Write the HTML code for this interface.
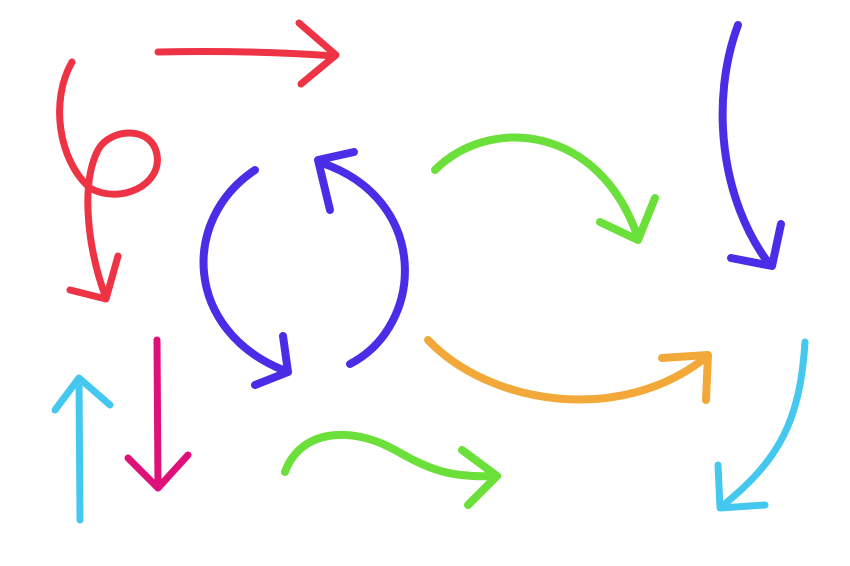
<!DOCTYPE html>
<html><head><meta charset="utf-8"><style>
html,body{margin:0;padding:0;background:#fff;width:850px;height:566px;overflow:hidden}
svg{display:block}
path{fill:none;stroke-linecap:round;stroke-linejoin:round}
</style></head><body>
<svg width="850" height="566" viewBox="0 0 850 566">
<g stroke="#ee3344" stroke-width="7">
<path d="M158 52 Q250 50 335 56"/>
<path d="M299 23 L336 55 L301 84"/>
<path d="M72 62 C50 100 58 160 90 188 C120 205 162 185 157 155 C152 125 110 128 98 150 C80 185 88 250 106 298"/>
<path d="M70 290 L106 299 L118 256"/>
</g>
<g stroke="#4a2de6" stroke-width="8">
<path d="M255 170 C180 220 185 330 283 370"/>
<path d="M255 385 L288 372 L283 336"/>
<path d="M350 364 C425 325 430 200 322 163"/>
<path d="M354 152 L318 160 L330 210"/>
<path d="M738 25 C710 100 720 200 770 265"/>
<path d="M731 258 L772 266 L781 224"/>
</g>
<g stroke="#6ce03a" stroke-width="8">
<path d="M435 170 C490 115 600 125 638 238"/>
<path d="M600 222 L638 240 L655 198"/>
<path d="M285 472 C300 430 350 425 395 450 C430 470 450 478 497 476"/>
<path d="M462 450 L497 476 L468 505"/>
</g>
<g stroke="#f2a93a" stroke-width="8">
<path d="M428 340 C490 405 620 425 705 358"/>
<path d="M662 358 L708 355 L706 400"/>
</g>
<g stroke="#45c8f0" stroke-width="7">
<path d="M80 520 L79 380"/>
<path d="M55 410 L79 378 L110 405"/>
<path d="M805 342 C800 420 780 460 721 507"/>
<path d="M718 465 L720 508 L765 505"/>
</g>
<g stroke="#e0107a" stroke-width="7">
<path d="M157 340 L158 488"/>
<path d="M128 458 L158 488 L188 455"/>
</g>
</svg>
</body></html>
